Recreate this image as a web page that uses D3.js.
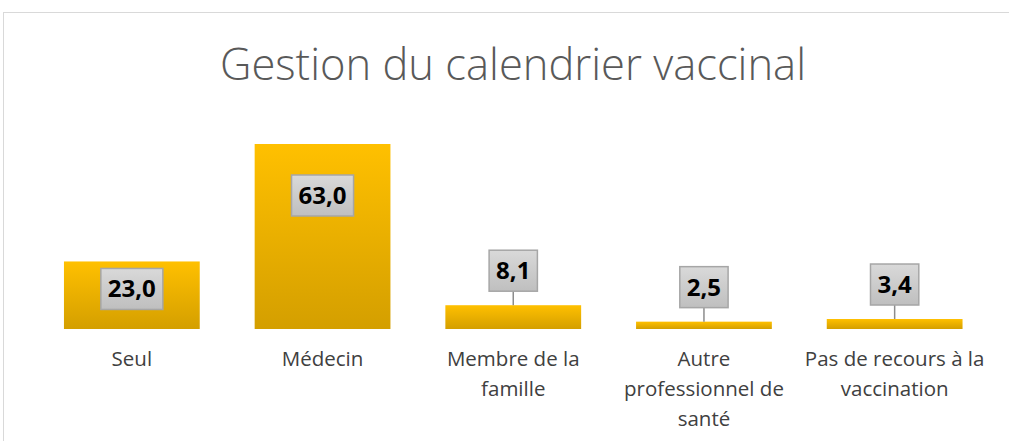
<!DOCTYPE html>
<html><head><meta charset="utf-8">
<script src="https://cdn.jsdelivr.net/npm/d3@7"></script>
<style>
html,body{margin:0;padding:0;background:#fff;overflow:hidden}
svg{display:block}
</style></head>
<body>
<svg id="c" width="1009" height="441"></svg>
<script>
const title = "Gestion du calendrier vaccinal";
const categories = ["Seul", "Médecin", "Membre de la\nfamille", "Autre\nprofessionnel de\nsanté", "Pas de recours à la\nvaccination"];
const values = [23.0, 63.0, 8.1, 2.5, 3.4];
const valueLabels = ["23,0", "63,0", "8,1", "2,5", "3,4"];

// layout
const W = 1009, H = 441;
const baseY = 329, topY = 144;
const labelInsideDy = [7, 31, null, null, null]; // box top offset inside bar; null => outside with leader
const boxH = 41, leaderGap = 14;

const svg = d3.select("#c");
const defs = svg.append("defs");
const g1 = defs.append("linearGradient").attr("id","barGrad").attr("x1",0).attr("y1",0).attr("x2",0).attr("y2",1);
g1.append("stop").attr("offset","0%").attr("stop-color","#ffc000");
g1.append("stop").attr("offset","100%").attr("stop-color","#d49f00");
const g2 = defs.append("linearGradient").attr("id","boxGrad").attr("x1",0).attr("y1",0).attr("x2",0).attr("y2",1);
g2.append("stop").attr("offset","0%").attr("stop-color","#d9d9d9");
g2.append("stop").attr("offset","100%").attr("stop-color","#bfbfbf");

// frame
svg.append("rect").attr("x",3.5).attr("y",12.5).attr("width",1100).attr("height",600)
  .attr("fill","#fff").attr("stroke","#d9d9d9").attr("stroke-width",1);

svg.append("text").attr("x",513).attr("y",80).attr("text-anchor","middle")
  .attr("font-family","Open Sans").attr("font-weight",300).attr("font-size",43.5)
  .attr("fill","#595959").text(title);

const x = d3.scaleBand().domain(categories).range([36.5, 990]).paddingInner(0.288).paddingOuter(0.144);
const y = d3.scaleLinear().domain([0, 63]).range([baseY, topY]);

svg.selectAll("rect.bar").data(values).enter().append("rect").attr("class","bar")
  .attr("x",(d,i)=>x(categories[i])).attr("width",x.bandwidth())
  .attr("y",d=>y(d)).attr("height",d=>baseY - y(d)).attr("fill","url(#barGrad)");

// category labels
const cat = svg.append("g").attr("font-family","Open Sans").attr("font-size",20.5).attr("fill","#404040");
categories.forEach((c,i)=>{
  const t = cat.append("text").attr("text-anchor","middle").attr("x", x(c)+x.bandwidth()/2).attr("y",366);
  c.split("\n").forEach((ln,j)=>t.append("tspan").attr("x",x(c)+x.bandwidth()/2).attr("dy", j?30:0).text(ln));
});

// value labels
const lab = svg.append("g");
values.forEach((v,i)=>{
  const cx = x(categories[i]) + x.bandwidth()/2;
  const tmp = lab.append("text").attr("font-family","Open Sans").attr("font-weight",700).attr("font-size",24).text(valueLabels[i]);
  const tw = tmp.node().getComputedTextLength();
  tmp.remove();
  const bw = tw + 14;
  let top;
  if (labelInsideDy[i] != null) top = y(v) + labelInsideDy[i];
  else {
    top = y(v) - leaderGap - boxH;
    lab.append("line").attr("x1",cx).attr("x2",cx).attr("y1",top+boxH).attr("y2",y(v))
      .attr("stroke","#8c8c8c").attr("stroke-width",1.5);
  }
  lab.append("rect").attr("x",cx-bw/2).attr("y",top).attr("width",bw).attr("height",boxH)
    .attr("fill","url(#boxGrad)").attr("stroke","#a6a6a6").attr("stroke-width",1.5);
  lab.append("text").attr("x",cx).attr("y",top+boxH/2+8.5).attr("text-anchor","middle")
    .attr("font-family","Open Sans").attr("font-weight",700).attr("font-size",24).attr("fill","#000")
    .text(valueLabels[i]);
});
</script>
</body></html>
